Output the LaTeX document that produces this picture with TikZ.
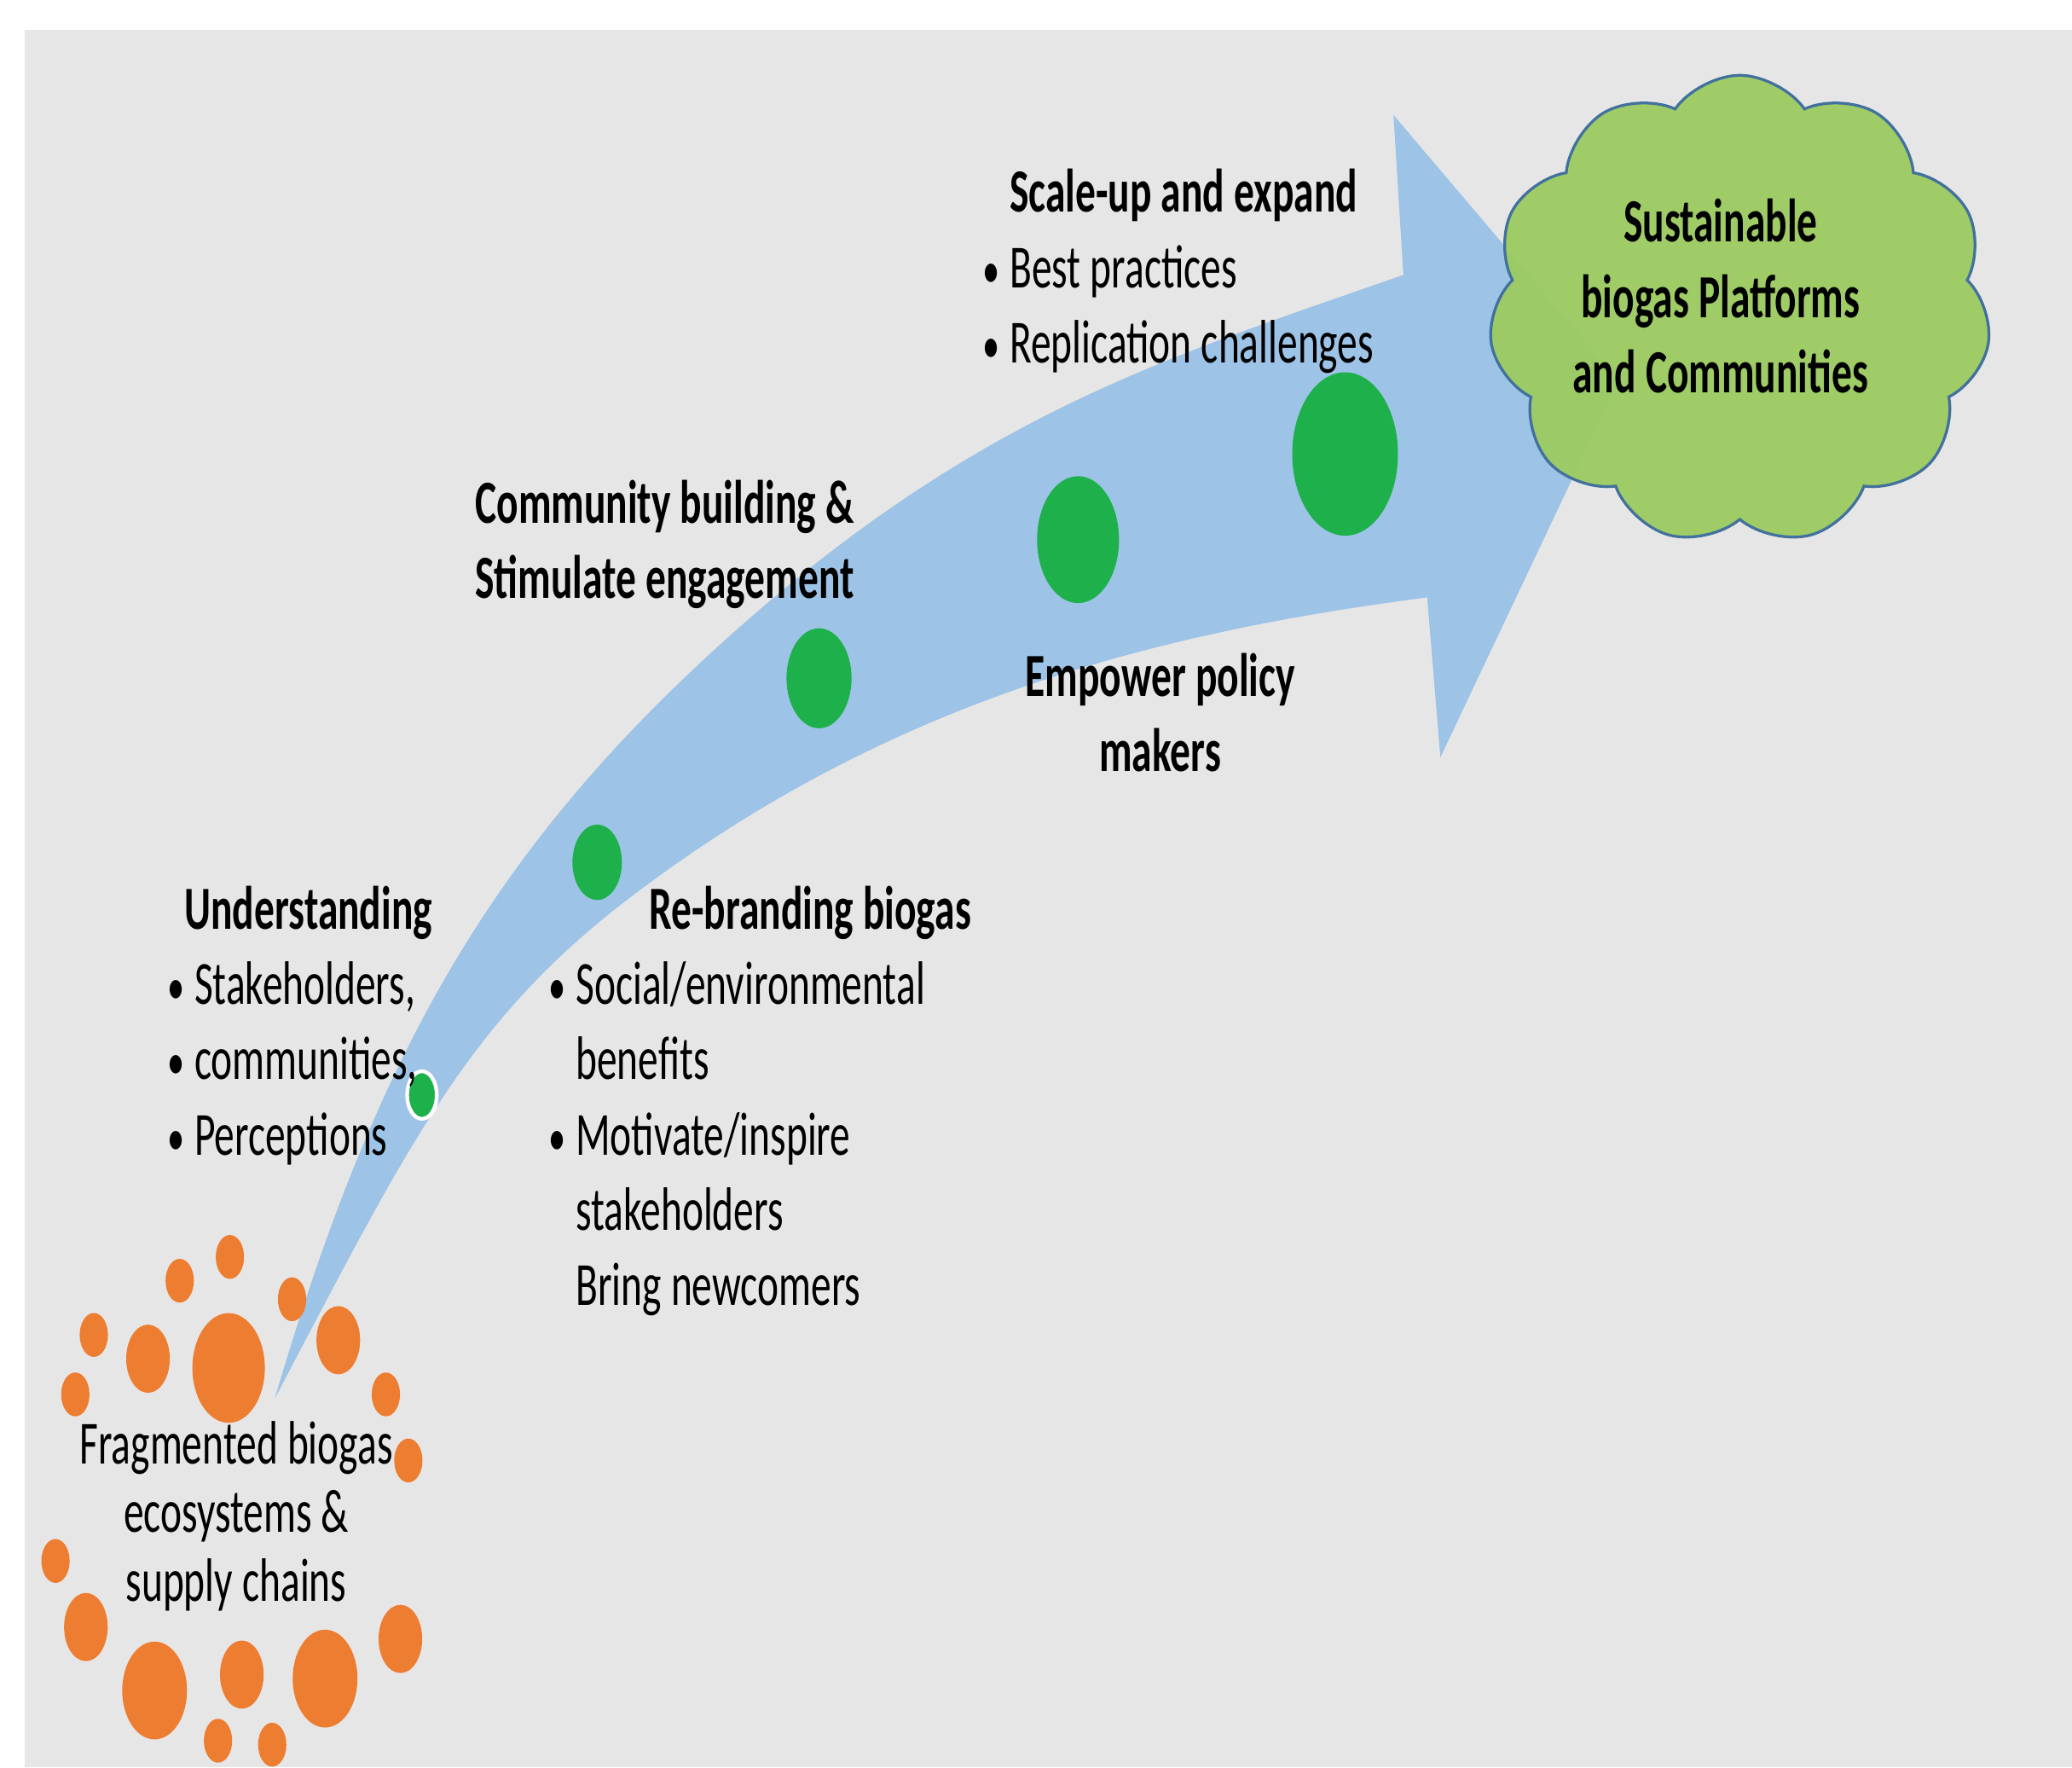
\documentclass[tikz,border=0pt]{standalone}
\usepackage{fontspec}
\setmainfont{Carlito}[FakeStretch=0.66]
\usepackage{tikz}
\usepackage{xcolor}
\usetikzlibrary{shapes.geometric,shapes.symbols,positioning}
\definecolor{bggray}{HTML}{E7E6E6}
\definecolor{arrowblue}{HTML}{9DC3E6}
\definecolor{stagegreen}{HTML}{1DB04B}
\definecolor{seedorange}{HTML}{ED7D31}
\definecolor{cloudgreen}{HTML}{9CCB61}
\definecolor{cloudblue}{HTML}{41719C}
\newlength{\stagegap}
\setlength{\stagegap}{0.205cm}
\newcommand{\stagebul}{\makebox[\stagegap][l]{\scalebox{0.85}{•}}}
\newcommand{\tightspace}{\spaceskip=0.072cm plus 0.03cm minus 0.02cm\xspaceskip=0.072cm\relax}
\tikzset{
  stagedot/.style={ellipse, fill=stagegreen, inner sep=0pt},
  seed/.style={ellipse, fill=seedorange, inner sep=0pt},
  seedS/.style={seed, minimum width=0.214cm, minimum height=0.332cm},
  seedM/.style={seed, minimum width=0.33cm, minimum height=0.516cm},
  seedL/.style={seed, minimum width=0.49cm, minimum height=0.74cm},
  seedXL/.style={seed, minimum width=0.548cm, minimum height=0.83cm},
  stagetext/.style={
    inner sep=0pt,
    text width=5cm,
    align=left,
    anchor=base west,
    font=\fontsize{13.2}{16.2}\selectfont,
    execute at begin node=\tightspace},
  centertext/.style={
    inner sep=0pt,
    align=center,
    anchor=base,
    font=\fontsize{13.2}{16.2}\selectfont,
    execute at begin node=\tightspace},
}
\begin{document}
\begin{tikzpicture}
  \tikzset{
      goal/.style={cloud, cloud puffs=11, cloud puff arc=110, cloud ignores aspect,
        draw=cloudblue, line width=0.6pt, fill=cloudgreen, fill opacity=0.95,
        minimum width=3.8cm, minimum height=3.55cm, inner sep=0pt},
  }
  \useasboundingbox (0,0) rectangle (15.68,13.37);
  \fill[white] (0,0) rectangle (15.68,13.37);
  \fill[bggray] (0.185,0) rectangle (15.68,13.144);

  % curved arrow
  \coordinate (tail) at (2.08,2.79);
  \coordinate (upmid) at (5.49,8.53);
  \coordinate (upend) at (10.62,11.29);
  \coordinate (headup) at (10.545,12.50);
  \coordinate (tip) at (12.25,10.49);
  \coordinate (headlow) at (10.90,7.64);
  \coordinate (lowend) at (10.80,8.85);
  \coordinate (lowmid) at (4.73,6.55);
  \fill[arrowblue] (tail) .. controls (2.83,5.34) and (3.69,6.91) .. (upmid)
    .. controls (7.39,10.24) and (8.82,10.66) .. (upend)
    -- (headup) -- (tip) -- (headlow) -- (lowend)
    .. controls (8.80,8.59) and (6.73,8.09) .. (lowmid)
    .. controls (3.53,5.626) and (3.08,4.69) .. (tail) -- cycle;

  % stages
  \node[stagedot, draw=white, line width=0.8pt, minimum width=0.224cm, minimum height=0.36cm] (d1) at (3.193,5.085) {};
  \node[stagedot, minimum width=0.374cm, minimum height=0.57cm] (d2) at (4.519,6.846) {};
  \node[stagedot, minimum width=0.492cm, minimum height=0.756cm] (d3) at (6.198,8.238) {};
  \node[stagedot, minimum width=0.62cm, minimum height=0.96cm] (d4) at (8.158,9.287) {};
  \node[stagedot, minimum width=0.80cm, minimum height=1.236cm] (d5) at (10.179,9.935) {};

  % fragmented ecosystem
  \node[seedS] (o1) at (1.74,3.86) {};
  \node[seedS] (o2) at (1.36,3.68) {};
  \node[seedS] (o3) at (2.21,3.54) {};
  \node[seedS] (o4) at (0.71,3.27) {};
  \node[seedM] (o5) at (1.12,3.09) {};
  \node[seedXL] (o6) at (1.73,3.02) {};
  \node[seedM] (o7) at (2.56,3.23) {};
  \node[seedS] (o8) at (0.57,2.82) {};
  \node[seedS] (o9) at (2.92,2.82) {};
  \node[seedS] (o10) at (3.09,2.32) {};
  \node[seedS] (o11) at (0.42,1.56) {};
  \node[seedM] (o12) at (0.65,1.06) {};
  \node[seedL] (o13) at (1.17,0.58) {};
  \node[seedM] (o14) at (1.83,0.70) {};
  \node[seedL] (o15) at (2.46,0.67) {};
  \node[seedM] (o16) at (3.03,0.97) {};
  \node[seedS] (o17) at (1.65,0.20) {};
  \node[seedS] (o18) at (2.06,0.17) {};
  \node[centertext, font=\fontsize{13.2}{14.8}\selectfont] (start) at (1.788,1.255)
    {Fragmented biogas\\ecosystems \&\\supply chains};

  % goal
  \node[goal] (goal) at (13.166,11.025) {};
  \node[centertext] (goaltext) at (13.02,10.40)
    {\textbf{Sustainable}\\\textbf{biogas Platforms}\\\textbf{and Communities}};

  % stage texts
  \node[stagetext] (understand) at (1.26,6.34)
    {\hspace*{0.13cm}\textbf{Understanding}\\\stagebul Stakeholders,\\\stagebul communities,\\\stagebul Perceptions};
  \node[stagetext] (rebrand) at (4.146,6.34)
    {\hspace*{0.76cm}\textbf{Re-branding biogas}\\\stagebul Social/environmental\\\hspace*{\stagegap}benefits\\\stagebul Motivate/inspire\\\hspace*{\stagegap}stakeholders\\\hspace*{\stagegap}Bring newcomers};
  \node[stagetext] (community) at (3.59,9.41)
    {\textbf{Community building \&}\\\textbf{Stimulate engagement}};
  \node[centertext] (policy) at (8.78,7.533)
    {\textbf{Empower policy}\\\textbf{makers}};
  \node[stagetext] (scaleup) at (7.43,11.764)
    {\hspace*{\stagegap}\textbf{Scale-up and expand}\\\stagebul Best practices\\\stagebul Replication challenges};
\end{tikzpicture}
\end{document}
